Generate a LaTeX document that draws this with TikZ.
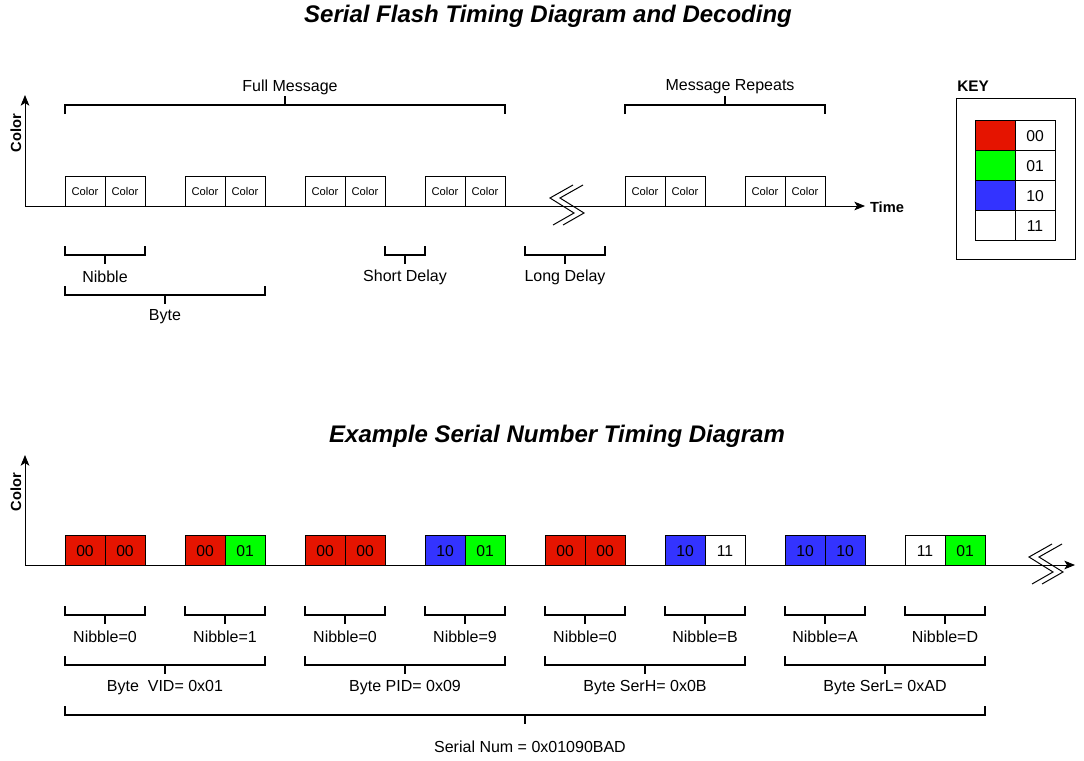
\documentclass[tikz,border=0pt]{standalone}
\usepackage{fontspec}
\setmainfont{Liberation Sans}
\usetikzlibrary{positioning, arrows.meta}
\definecolor{bitred}{HTML}{E51400}
\definecolor{bitgreen}{HTML}{00FF00}
\definecolor{bitblue}{HTML}{3333FF}
\tikzstyle{cell} = [rectangle, minimum width=30pt, minimum height=22.5pt, inner sep=0pt, outer sep=0pt, text centered, text height=10pt, draw=black, line width=0.75pt, font=\fontsize{11.8}{13}\selectfont]
\tikzstyle{colorcell} = [cell, text height=7.5pt, font=\fontsize{8.4}{10}\selectfont]
\tikzstyle{bits00} = [cell, fill=bitred]
\tikzstyle{bits01} = [cell, fill=bitgreen]
\tikzstyle{bits10} = [cell, fill=bitblue]
\tikzstyle{bits11} = [cell, fill=white]
\tikzstyle{axis} = [line width=0.75pt,-{Stealth[length=8pt,width=6.5pt,inset=2pt]}]
\tikzstyle{brace} = [line width=1.5pt]
\tikzstyle{zigzag} = [line width=0.75pt]
\tikzstyle{lbl} = [font=\fontsize{12}{14}\selectfont, inner sep=1pt]
\tikzstyle{axislbl} = [font=\fontsize{11}{13}\selectfont\bfseries, inner sep=1pt]
\tikzstyle{headline} = [font=\fontsize{18}{21}\selectfont\bfseries\itshape, inner sep=1pt]

\begin{document}
\begin{tikzpicture}[x=0.75pt, y=-0.75pt]
			\useasboundingbox (0,0) rectangle (1084,760);

			% titles
			\node (title1) [headline] at (548,16) {Serial Flash Timing Diagram and Decoding};
			\node (title2) [headline] at (557,436) {Example Serial Number Timing Diagram};

			% top diagram: axes
			\coordinate (o1) at (25,206);
			\coordinate (ytop1) at (25,95);
			\coordinate (xend1) at (865,206);
			\draw [axis] (o1) -- (ytop1);
			\draw [axis] (o1) -- (xend1);
			\node (ylbl1) [axislbl, rotate=90] at (16,133) {Color};
			\node (tlbl1) [axislbl] at (887,207) {Time};

			% top diagram: color slots
			\node (t1a) [colorcell] at (85,191) {Color};
			\node (t1b) [colorcell, right=0pt of t1a] {Color};
			\node (t2a) [colorcell] at (205,191) {Color};
			\node (t2b) [colorcell, right=0pt of t2a] {Color};
			\node (t3a) [colorcell] at (325,191) {Color};
			\node (t3b) [colorcell, right=0pt of t3a] {Color};
			\node (t4a) [colorcell] at (445,191) {Color};
			\node (t4b) [colorcell, right=0pt of t4a] {Color};
			\node (t5a) [colorcell] at (645,191) {Color};
			\node (t5b) [colorcell, right=0pt of t5a] {Color};
			\node (t6a) [colorcell] at (765,191) {Color};
			\node (t6b) [colorcell, right=0pt of t6a] {Color};

			% top diagram: break
			\draw [zigzag, shift={(566,206)}] (7,-21) -- (-16,-8) -- (8,7) -- (-13,19);
			\draw [zigzag, shift={(576,206)}] (7,-21) -- (-16,-8) -- (8,7) -- (-13,19);

			% top diagram: brackets
			\draw [brace] (65,114) -- (65,105) -- (505,105) -- (505,114) (285,105) -- (285,96);
			\node (full) [lbl] at (290,87) {Full Message};
			\draw [brace] (625,114) -- (625,105) -- (825,105) -- (825,114) (725,105) -- (725,96);
			\node (repeat) [lbl] at (730,87) {Message Repeats};
			\draw [brace] (65,246) -- (65,255) -- (145,255) -- (145,246) (105,255) -- (105,264);
			\node (nib) [lbl] at (105,277) {Nibble};
			\draw [brace] (65,286) -- (65,295) -- (265,295) -- (265,286) (165,295) -- (165,304);
			\node (byte) [lbl] at (165,317) {Byte};
			\draw [brace] (385,246) -- (385,255) -- (425,255) -- (425,246) (405,255) -- (405,264);
			\node (short) [lbl] at (405,277) {Short Delay};
			\draw [brace] (525,246) -- (525,255) -- (605,255) -- (605,246) (565,255) -- (565,264);
			\node (long) [lbl] at (565,277) {Long Delay};

			% key
			\node (keylbl) [axislbl, font=\fontsize{11.5}{13}\selectfont\bfseries] at (973,86) {KEY};
			\draw [line width=0.75pt] (956,98) rectangle (1075,259);
			\node (k00) [bits00] at (995,135) {};
			\node (k01) [bits01, below=0pt of k00] {};
			\node (k10) [bits10, below=0pt of k01] {};
			\node (k11) [bits11, below=0pt of k10] {};
			\node (v00) [cell, right=0pt of k00] {00};
			\node (v01) [cell, right=0pt of k01] {01};
			\node (v10) [cell, right=0pt of k10] {10};
			\node (v11) [cell, right=0pt of k11] {11};

			% bottom diagram: axes
			\coordinate (o2) at (25,565);
			\coordinate (ytop2) at (25,455);
			\coordinate (xend2) at (1075,565);
			\draw [axis] (o2) -- (ytop2);
			\draw [axis] (o2) -- (xend2);
			\node (ylbl2) [axislbl, rotate=90] at (16,492) {Color};

			% bottom diagram: nibbles
			\node (s1a) [bits00] at (85,550) {00};
			\node (s1b) [bits00, right=0pt of s1a] {00};
			\node (s2a) [bits00] at (205,550) {00};
			\node (s2b) [bits01, right=0pt of s2a] {01};
			\node (s3a) [bits00] at (325,550) {00};
			\node (s3b) [bits00, right=0pt of s3a] {00};
			\node (s4a) [bits10] at (445,550) {10};
			\node (s4b) [bits01, right=0pt of s4a] {01};
			\node (s5a) [bits00] at (565,550) {00};
			\node (s5b) [bits00, right=0pt of s5a] {00};
			\node (s6a) [bits10] at (685,550) {10};
			\node (s6b) [bits11, right=0pt of s6a] {11};
			\node (s7a) [bits10] at (805,550) {10};
			\node (s7b) [bits10, right=0pt of s7a] {10};
			\node (s8a) [bits11] at (925,550) {11};
			\node (s8b) [bits01, right=0pt of s8a] {01};

			% bottom diagram: break
			\draw [zigzag, shift={(1045,565)}] (7,-21) -- (-16,-8) -- (8,7) -- (-13,19);
			\draw [zigzag, shift={(1055,565)}] (7,-21) -- (-16,-8) -- (8,7) -- (-13,19);

			% bottom diagram: nibble brackets
			\draw [brace] (65,606) -- (65,615) -- (145,615) -- (145,606) (105,615) -- (105,624);
			\node (n1) [lbl] at (105,637) {Nibble=0};
			\draw [brace] (185,606) -- (185,615) -- (265,615) -- (265,606) (225,615) -- (225,624);
			\node (n2) [lbl] at (225,637) {Nibble=1};
			\draw [brace] (305,606) -- (305,615) -- (385,615) -- (385,606) (345,615) -- (345,624);
			\node (n3) [lbl] at (345,637) {Nibble=0};
			\draw [brace] (425,606) -- (425,615) -- (505,615) -- (505,606) (465,615) -- (465,624);
			\node (n4) [lbl] at (465,637) {Nibble=9};
			\draw [brace] (545,606) -- (545,615) -- (625,615) -- (625,606) (585,615) -- (585,624);
			\node (n5) [lbl] at (585,637) {Nibble=0};
			\draw [brace] (665,606) -- (665,615) -- (745,615) -- (745,606) (705,615) -- (705,624);
			\node (n6) [lbl] at (705,637) {Nibble=B};
			\draw [brace] (785,606) -- (785,615) -- (865,615) -- (865,606) (825,615) -- (825,624);
			\node (n7) [lbl] at (825,637) {Nibble=A};
			\draw [brace] (905,606) -- (905,615) -- (985,615) -- (985,606) (945,615) -- (945,624);
			\node (n8) [lbl] at (945,637) {Nibble=D};

			% bottom diagram: byte brackets
			\draw [brace] (65,656) -- (65,665) -- (265,665) -- (265,656) (165,665) -- (165,674);
			\node (vid) [lbl] at (165,688) {Byte~ VID= 0x01};
			\draw [brace] (305,656) -- (305,665) -- (505,665) -- (505,656) (405,665) -- (405,674);
			\node (pid) [lbl] at (405,688) {Byte PID= 0x09};
			\draw [brace] (545,656) -- (545,665) -- (745,665) -- (745,656) (645,665) -- (645,674);
			\node (serh) [lbl] at (645,688) {Byte SerH= 0x0B};
			\draw [brace] (785,656) -- (785,665) -- (985,665) -- (985,656) (885,665) -- (885,674);
			\node (serl) [lbl] at (885,688) {Byte SerL= 0xAD};

			% bottom diagram: serial number bracket
			\draw [brace] (65,706) -- (65,715) -- (985,715) -- (985,706) (525,715) -- (525,724);
			\node (serial) [lbl] at (530,747) {Serial Num = 0x01090BAD};
\end{tikzpicture}
\end{document}
